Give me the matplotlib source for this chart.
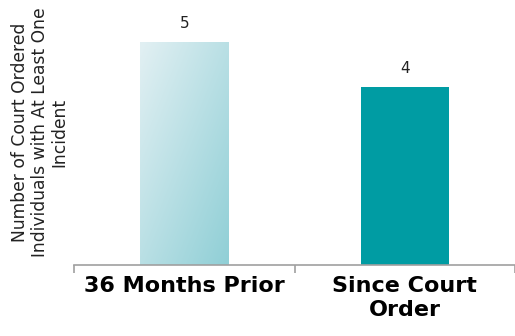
import numpy as np
import matplotlib.pyplot as plt
from matplotlib.colors import LinearSegmentedColormap

categories = ['36 Months Prior', 'Since Court\nOrder']
values = [5, 4]
ylabel = 'Number of Court Ordered\nIndividuals with At Least One\nIncident'

fig = plt.figure(figsize=(5.15, 3.36), dpi=100)
ax = fig.add_axes([74 / 515, 1 - 265 / 336, 441 / 515, 255 / 336])

x = np.arange(len(categories))
bars = ax.bar(x, values, width=0.40, color=['none', '#009ca3'], zorder=2)

# first bar gets a diagonal light-to-teal gradient
grad = LinearSegmentedColormap.from_list('g', ['#e2f0f3', '#90cfd6'])
b = bars[0]
x0, w, h = b.get_x(), b.get_width(), b.get_height()
gx, gy = np.meshgrid(np.linspace(0, 1, 100), np.linspace(0, 1, 100))
z = (gx + gy) / 2
im = ax.imshow(z, cmap=grad, extent=[x0, x0 + w, 0, h], origin='upper',
               aspect='auto', zorder=2)
im.set_clip_path(b)

for bar, v in zip(bars, values):
    ax.text(bar.get_x() + bar.get_width() / 2, v + 0.25, str(v),
            ha='center', va='bottom', fontsize=11, color='#222222')

ax.set_xlim(-0.5, 1.48)
ax.set_ylim(0, 5.72)
ax.set_yticks([])
ax.set_xticks([-0.5, 0.5, 1.5], minor=False)
ax.set_xticklabels([])
ax.set_xticks(x, minor=True)
ax.set_xticklabels(categories, minor=True, fontsize=16, fontweight='bold',
                   linespacing=1.25)
ax.tick_params(axis='x', which='major', length=6, color='#a0a0a0', width=1.2)
ax.tick_params(axis='x', which='minor', length=0, pad=8)
for s in ['top', 'right', 'left']:
    ax.spines[s].set_visible(False)
ax.spines['bottom'].set_color('#a0a0a0')
ax.spines['bottom'].set_linewidth(1.2)

fig.text(40 / 515, 1 - 132 / 336, ylabel, rotation=90, ha='center', va='center',
         fontsize=12.3, color='#222222', linespacing=1.12)

fig.savefig('out.png', dpi=100)
